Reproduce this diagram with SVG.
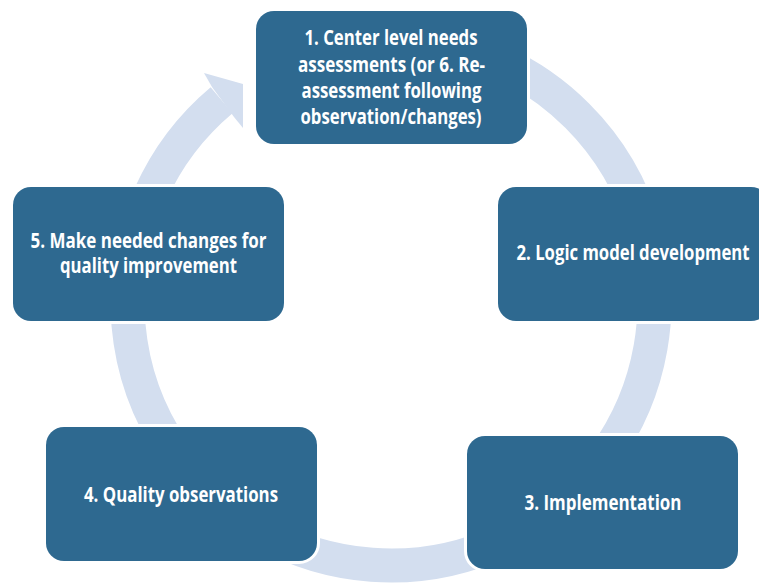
<svg xmlns="http://www.w3.org/2000/svg" width="759" height="584" viewBox="0 0 759 584">
  <style>
    .box { fill: #2e6990; stroke: #ffffff; stroke-width: 6; paint-order: stroke; }
    .lbl { font-family: "Open Sans", "Liberation Sans", sans-serif; font-weight: bold; font-size: 21px; fill: #ffffff; text-anchor: middle; }
    .ring { fill: none; stroke: #d3deef; stroke-width: 34; }
    .head { fill: #d3deef; }
  </style>
  <rect width="759" height="584" fill="#ffffff"/>
  <g id="connectors">
    <path class="ring" d="M 345.2 42.5 A 263.5 263.5 0 1 1 221.6 100.15"/>
    <polygon class="head" points="212,87 204,73 243,84 243,128 234,117"/>
  </g>
  <g id="node1">
    <rect class="box" x="256" y="11" width="271" height="133" rx="18"/>
    <text class="lbl" x="391" y="45" textLength="173" lengthAdjust="spacingAndGlyphs">1. Center level needs</text>
    <text class="lbl" x="391.5" y="71.5" textLength="187" lengthAdjust="spacingAndGlyphs">assessments (or 6. Re-</text>
    <text class="lbl" x="391.5" y="97.5" textLength="180" lengthAdjust="spacingAndGlyphs">assessment following</text>
    <text class="lbl" x="391" y="123.5" textLength="181" lengthAdjust="spacingAndGlyphs">observation/changes)</text>
  </g>
  <g id="node2">
    <rect class="box" x="498" y="187" width="271" height="134" rx="18"/>
    <text class="lbl" x="633" y="260" textLength="233" lengthAdjust="spacingAndGlyphs">2. Logic model development</text>
  </g>
  <g id="node3">
    <rect class="box" x="467" y="436" width="271" height="133" rx="18"/>
    <text class="lbl" x="603" y="510" textLength="157" lengthAdjust="spacingAndGlyphs">3. Implementation</text>
  </g>
  <g id="node4">
    <rect class="box" x="46" y="427" width="271" height="134" rx="18"/>
    <text class="lbl" x="181" y="502" textLength="194" lengthAdjust="spacingAndGlyphs">4. Quality observations</text>
  </g>
  <g id="node5">
    <rect class="box" x="13" y="187" width="271" height="134" rx="18"/>
    <text class="lbl" x="148.5" y="247.5" textLength="236" lengthAdjust="spacingAndGlyphs">5. Make needed changes for</text>
    <text class="lbl" x="148.5" y="273" textLength="177" lengthAdjust="spacingAndGlyphs">quality improvement</text>
  </g>
</svg>
